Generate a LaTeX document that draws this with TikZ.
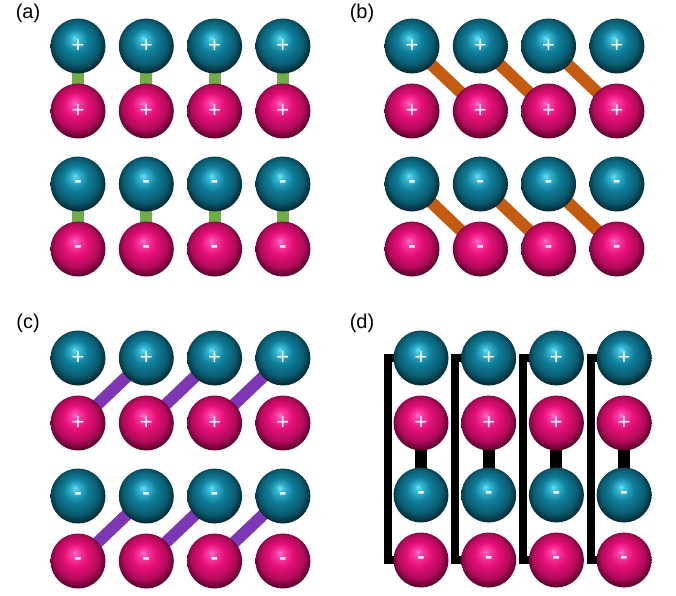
\documentclass[tikz,border=0pt]{standalone}
\usepackage{fontspec}
\setmainfont{Liberation Sans}
\usetikzlibrary{backgrounds}
\definecolor{bondG}{RGB}{112,173,71}
\definecolor{bondO}{RGB}{197,90,17}
\definecolor{bondP}{RGB}{125,55,180}
\pgfdeclareradialshading{tealshade}{\pgfpoint{-3bp}{7.5bp}}{%
 rgb(0bp)=(0.38,0.90,0.98); rgb(3.5bp)=(0.22,0.72,0.84); rgb(11bp)=(0.06,0.50,0.61);
 rgb(20bp)=(0.04,0.36,0.44); rgb(27bp)=(0.01,0.14,0.18); rgb(30bp)=(0.03,0.20,0.25);
 rgb(32.5bp)=(0.28,0.70,0.80); rgb(35bp)=(0.30,0.72,0.82)}
\pgfdeclareradialshading{pinkshade}{\pgfpoint{-3bp}{7.5bp}}{%
 rgb(0bp)=(1.00,0.45,0.82); rgb(3.5bp)=(0.98,0.24,0.64); rgb(11bp)=(0.90,0.06,0.47);
 rgb(20bp)=(0.70,0.04,0.35); rgb(27bp)=(0.30,0.00,0.15); rgb(30bp)=(0.42,0.02,0.22);
 rgb(32.5bp)=(0.92,0.35,0.68); rgb(35bp)=(0.94,0.40,0.72)}
\tikzset{
 ball/.style={circle, minimum size=55pt, inner sep=0pt, text=white,
   font=\fontsize{22}{22}\selectfont},
 tealball/.style={ball, shade, shading=tealshade},
 pinkball/.style={ball, shade, shading=pinkshade},
 bond/.style={line width=12pt},
 bondgreen/.style={bond, draw=bondG},
 bondorange/.style={bond, draw=bondO},
 bondpurple/.style={bond, draw=bondP},
 bondblack/.style={bond, draw=black},
 bracket/.style={line width=8pt, draw=black, line join=miter},
 panellabel/.style={font=\fontsize{20}{20}\selectfont, inner sep=0pt}
}
\newcommand\mns{\textbf{-}}
\begin{document}
\begin{tikzpicture}[x=1pt,y=-1pt]
\useasboundingbox (0,0) rectangle (676,595);
% panel labels
\node[panellabel] (la) at (28,13) {(a)};
\node[panellabel] (lb) at (362,13) {(b)};
\node[panellabel] (lc) at (28,323) {(c)};
\node[panellabel] (ld) at (362,323) {(d)};
% panel (a)
\foreach \c in {1,...,4}{
  \pgfmathsetmacro\x{78+68.3*(\c-1)}
  \node[tealball] (a1\c) at (\x,46) {+};
  \node[pinkball] (a2\c) at (\x,111) {+};
  \node[tealball] (a3\c) at (\x,184) {\mns};
  \node[pinkball] (a4\c) at (\x,249) {\mns};
}
% panel (b)
\foreach \c in {1,...,4}{
  \pgfmathsetmacro\x{412+68.3*(\c-1)}
  \node[tealball] (b1\c) at (\x,46) {+};
  \node[pinkball] (b2\c) at (\x,111) {+};
  \node[tealball] (b3\c) at (\x,184) {\mns};
  \node[pinkball] (b4\c) at (\x,249) {\mns};
}
% panel (c)
\foreach \c in {1,...,4}{
  \pgfmathsetmacro\x{78+68.3*(\c-1)}
  \node[tealball] (c1\c) at (\x,358) {+};
  \node[pinkball] (c2\c) at (\x,423) {+};
  \node[tealball] (c3\c) at (\x,496) {\mns};
  \node[pinkball] (c4\c) at (\x,561) {\mns};
}
% panel (d)
\foreach \c in {1,...,4}{
  \pgfmathsetmacro\x{421+67.7*(\c-1)}
  \node[tealball] (d1\c) at (\x,358) {+};
  \node[pinkball] (d2\c) at (\x,423) {+};
  \node[tealball] (d3\c) at (\x,495) {\mns};
  \node[pinkball] (d4\c) at (\x,560) {\mns};
}
\begin{pgfonlayer}{background}
\foreach \c in {1,...,4}{
  \draw[bondgreen] (a1\c.center) -- (a2\c.center);
  \draw[bondgreen] (a3\c.center) -- (a4\c.center);
  \draw[bondblack] (d2\c.center) -- (d3\c.center);
  \draw[bracket] (d1\c.center) -- ++(-33.5,0) |- (d4\c.center);
}
\foreach \c/\d in {1/2,2/3,3/4}{
  \draw[bondorange] (b1\c.center) -- (b2\d.center);
  \draw[bondorange] (b3\c.center) -- (b4\d.center);
  \draw[bondpurple] (c2\c.center) -- (c1\d.center);
  \draw[bondpurple] (c4\c.center) -- (c3\d.center);
}
\end{pgfonlayer}
\end{tikzpicture}
\end{document}
